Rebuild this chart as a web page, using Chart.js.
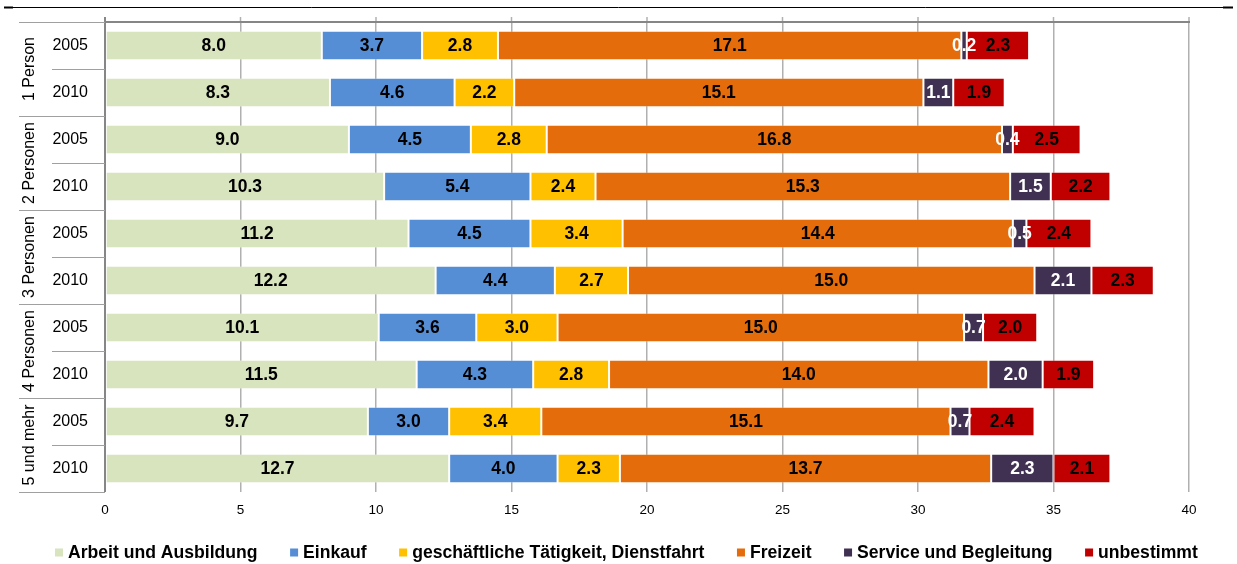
<!DOCTYPE html>
<html>
<head>
<meta charset="utf-8">
<script src="https://cdn.jsdelivr.net/npm/chart.js@4.4.1/dist/chart.umd.min.js"></script>
<style>
  html, body { margin: 0; padding: 0; background: #fff; }
  #wrap { width: 1237px; height: 564px; position: relative; }
</style>
</head>
<body>
<div id="wrap"><canvas id="c"></canvas></div>
<script>
const groups = ['1 Person', '2 Personen', '3 Personen', '4 Personen', '5 und mehr'];
const years = ['2005', '2010'];
const seriesNames = ['Arbeit und Ausbildung', 'Einkauf', 'geschäftliche Tätigkeit, Dienstfahrt', 'Freizeit', 'Service und Begleitung', 'unbestimmt'];
const arbeit    = [8.0, 8.3, 9.0, 10.3, 11.2, 12.2, 10.1, 11.5, 9.7, 12.7];
const einkauf   = [3.7, 4.6, 4.5, 5.4, 4.5, 4.4, 3.6, 4.3, 3.0, 4.0];
const geschaeft = [2.8, 2.2, 2.8, 2.4, 3.4, 2.7, 3.0, 2.8, 3.4, 2.3];
const freizeit  = [17.1, 15.1, 16.8, 15.3, 14.4, 15.0, 15.0, 14.0, 15.1, 13.7];
const service   = [0.2, 1.1, 0.4, 1.5, 0.5, 2.1, 0.7, 2.0, 0.7, 2.3];
const unbest    = [2.3, 1.9, 2.5, 2.2, 2.4, 2.3, 2.0, 1.9, 2.4, 2.1];
const xTicks = [0, 5, 10, 15, 20, 25, 30, 35, 40];

const colors = ['#d7e4bd', '#558ed5', '#ffc000', '#e46c0a', '#403152', '#c00000'];
const labelColors = ['#000', '#000', '#000', '#000', '#fff', '#000'];
const seriesData = [arbeit, einkauf, geschaeft, freizeit, service, unbest];

const rowLabels = [];
groups.forEach(g => years.forEach(y => rowLabels.push(y)));

const FONT = "'Liberation Sans', Arial, sans-serif";
Chart.defaults.font.family = FONT;
Chart.defaults.color = '#000';

const datasets = seriesNames.map((name, i) => ({
  label: name,
  data: seriesData[i],
  backgroundColor: colors[i],
  borderColor: 'rgba(255,255,255,0.25)',
  borderWidth: 1,
  borderSkipped: false,
  barPercentage: 0.63,
  categoryPercentage: 1.0
}));

const decoPlugin = {
  id: 'deco',
  afterDatasetsDraw(chart) {
    const ctx = chart.ctx;
    ctx.save();
    ctx.font = "bold 17.5px " + FONT;
    ctx.textAlign = 'center';
    ctx.textBaseline = 'middle';
    chart.data.datasets.forEach((ds, di) => {
      const meta = chart.getDatasetMeta(di);
      meta.data.forEach((el, i) => {
        const p = el.getProps(['x', 'y', 'base'], true);
        const cx = (p.x + p.base) / 2;
        ctx.fillStyle = labelColors[di];
        ctx.fillText(ds.data[i].toFixed(1), cx, p.y + 1);
      });
    });
    ctx.restore();
  },
  afterDraw(chart) {
    const ctx = chart.ctx;
    const a = chart.chartArea;
    const ys = chart.scales.y;
    const xs = chart.scales.x;
    ctx.save();
    // top black rule
    ctx.strokeStyle = '#000';
    ctx.lineWidth = 1;
    ctx.beginPath(); ctx.moveTo(4, 7.5); ctx.lineTo(1233, 7.5); ctx.stroke();
    ctx.lineWidth = 2;
    ctx.beginPath(); ctx.moveTo(4, 7.5); ctx.lineTo(13, 7.5); ctx.stroke();
    ctx.beginPath(); ctx.moveTo(1223, 7.5); ctx.lineTo(1233, 7.5); ctx.stroke();
    // gridline stubs above plot
    ctx.strokeStyle = '#b0b0b0';
    ctx.lineWidth = 1.5;
    xTicks.forEach(v => {
      const px = xs.getPixelForValue(v);
      ctx.beginPath(); ctx.moveTo(px, 17); ctx.lineTo(px, a.top); ctx.stroke();
    });
    // top plot border
    ctx.strokeStyle = '#868686';
    ctx.lineWidth = 2;
    ctx.beginPath(); ctx.moveTo(a.left, a.top); ctx.lineTo(a.right + 1, a.top); ctx.stroke();
    // left axis line
    ctx.beginPath(); ctx.moveTo(a.left, 17); ctx.lineTo(a.left, a.bottom); ctx.stroke();
    // separator lines in label area
    ctx.strokeStyle = '#a0a0a0';
    ctx.lineWidth = 1;
    const n = rowLabels.length;
    for (let k = 0; k <= n; k++) {
      let yy;
      if (k === 0) yy = a.top;
      else if (k === n) yy = a.bottom;
      else yy = (ys.getPixelForValue(k - 1) + ys.getPixelForValue(k)) / 2;
      yy = Math.round(yy) + 0.5;
      const x0 = (k % 2 === 0) ? 19 : 52;
      ctx.beginPath(); ctx.moveTo(x0, yy); ctx.lineTo(a.left, yy); ctx.stroke();
    }
    // group labels rotated
    ctx.fillStyle = '#000';
    ctx.font = "16px " + FONT;
    ctx.textAlign = 'center';
    ctx.textBaseline = 'middle';
    groups.forEach((g, gi) => {
      const yc = (ys.getPixelForValue(gi * 2) + ys.getPixelForValue(gi * 2 + 1)) / 2;
      ctx.save();
      ctx.translate(30, yc);
      ctx.rotate(-Math.PI / 2);
      ctx.fillText(g, 0, 0);
      ctx.restore();
    });
    // legend
    ctx.font = "bold 17.6px " + FONT;
    ctx.textAlign = 'left';
    ctx.textBaseline = 'middle';
    let lx = 55;
    const ly = 553.5;
    seriesNames.forEach((name, i) => {
      ctx.fillStyle = colors[i];
      ctx.fillRect(lx, ly - 5, 8, 8);
      ctx.fillStyle = '#000';
      ctx.fillText(name, lx + 13, ly);
      lx += 13 + ctx.measureText(name).width + 32.5;
    });
    ctx.restore();
  }
};

new Chart(document.getElementById('c'), {
  type: 'bar',
  data: { labels: rowLabels, datasets },
  options: {
    indexAxis: 'y',
    responsive: true,
    maintainAspectRatio: false,
    animation: false,
    layout: { autoPadding: false, padding: { left: 0, right: 48, top: 22, bottom: 0 } },
    plugins: { legend: { display: false }, tooltip: { enabled: false } },
    scales: {
      x: {
        stacked: true,
        min: 0, max: 40,
        afterFit(s) { s.height = 72; s.paddingLeft = 0; s.paddingRight = 0; },
        afterBuildTicks(s) { s.ticks = xTicks.map(v => ({ value: v })); },
        ticks: { font: { size: 13.5 }, color: '#000', padding: 10 },
        grid: { color: '#b0b0b0', lineWidth: 1.5, drawTicks: false },
        border: { display: false }
      },
      y: {
        stacked: true,
        afterFit(s) { s.width = 105; s.paddingTop = 0; s.paddingBottom = 0; },
        ticks: { font: { size: 16 }, color: '#000', padding: 17 },
        grid: { display: false, drawTicks: false },
        border: { display: false }
      }
    }
  },
  plugins: [decoPlugin]
});
</script>
</body>
</html>
